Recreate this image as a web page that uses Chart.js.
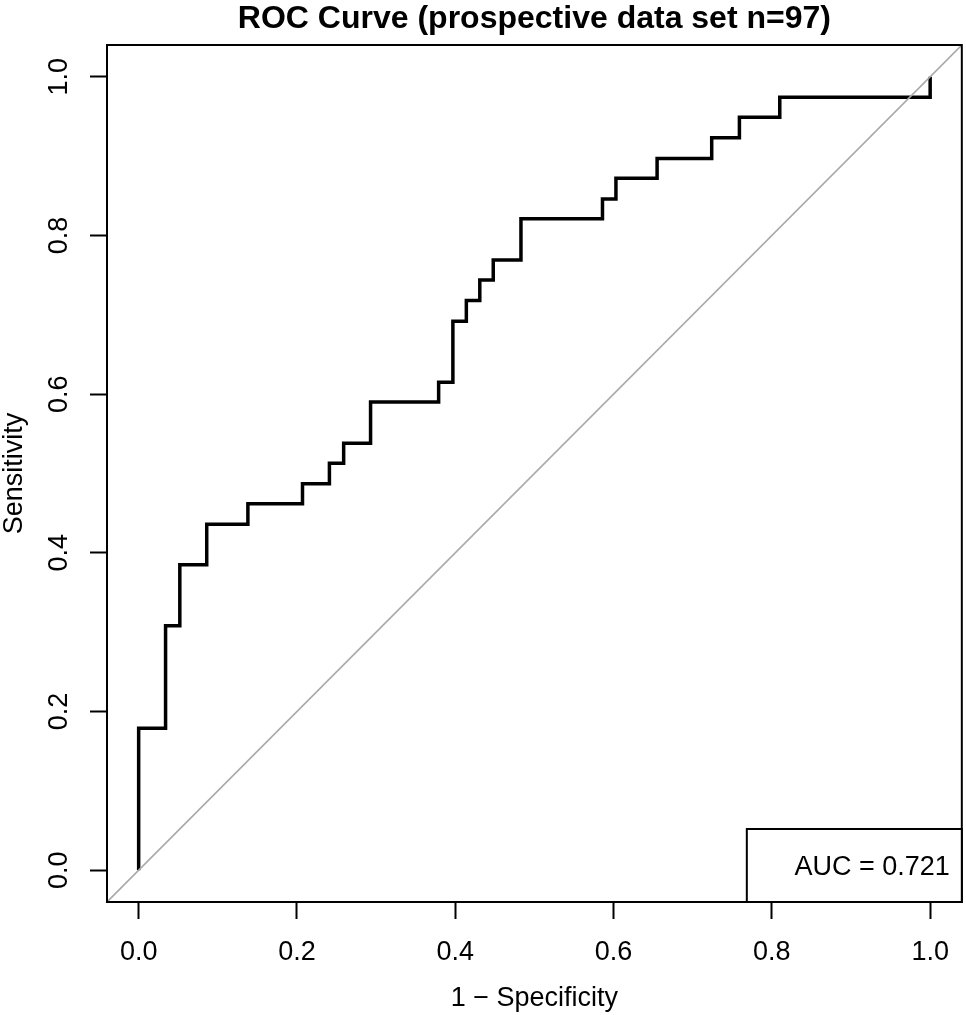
<!DOCTYPE html>
<html>
<head>
<meta charset="utf-8">
<script src="https://cdn.jsdelivr.net/npm/chart.js@4"></script>
<style>
  body { margin: 0; background: #fff; }
  #wrap { width: 966px; height: 1015px; }
</style>
</head>
<body>
<div id="wrap"><canvas id="roc" width="966" height="1015"></canvas></div>
<script>
// ROC curve, prospective data set

// step corners of the curve (1 - specificity, sensitivity)
const fpr = [0, 0, 0.034, 0.052, 0.086, 0.138, 0.207, 0.241, 0.259, 0.293, 0.379, 0.397,
  0.414, 0.431, 0.448, 0.483, 0.586, 0.603, 0.655, 0.724, 0.759, 0.810, 1.0];
const tpr = [0, 0.179, 0.308, 0.385, 0.436, 0.462, 0.487, 0.513, 0.538, 0.590, 0.615, 0.692,
  0.718, 0.744, 0.769, 0.821, 0.846, 0.872, 0.897, 0.923, 0.949, 0.974, 1.0];

// chance line, corner to corner of the plot region
const diagX = [-0.04, 1.04];
const diagY = [-0.04, 1.04];

const tickValues = [0, 0.2, 0.4, 0.6, 0.8, 1.0];
const tickLabels = ['0.0', '0.2', '0.4', '0.6', '0.8', '1.0'];

const title = 'ROC Curve (prospective data set n=97)';
const aucText = 'AUC = 0.721';

const FONT = '"Liberation Sans", Arial, Helvetica, sans-serif';

// draws box, title, rotated y labels and the auc legend
const extras = {
  id: 'extras',
  afterDraw(chart) {
    const ctx = chart.ctx;
    const a = chart.chartArea;
    const ys = chart.scales.y;
    ctx.save();
    ctx.strokeStyle = '#000';
    ctx.lineWidth = 2;
    ctx.strokeRect(a.left, a.top, a.right - a.left, a.bottom - a.top);

    ctx.fillStyle = '#000';
    ctx.font = 'bold 32px ' + FONT;
    ctx.textAlign = 'center';
    ctx.textBaseline = 'alphabetic';
    ctx.fillText(title, (a.left + a.right) / 2, 28);

    ctx.font = '27px ' + FONT;
    tickValues.forEach((v, i) => {
      ctx.save();
      ctx.translate(67, ys.getPixelForValue(v));
      ctx.rotate(-Math.PI / 2);
      ctx.fillText(tickLabels[i], 0, 0);
      ctx.restore();
    });

    // legend bottom right
    const w = 215, h = 73;
    ctx.fillStyle = '#fff';
    ctx.fillRect(a.right - w, a.bottom - h, w, h);
    ctx.strokeRect(a.right - w, a.bottom - h, w, h);
    ctx.fillStyle = '#000';
    ctx.textAlign = 'right';
    ctx.fillText(aucText, a.right - 12, a.bottom - h / 2 + 9.5);
    ctx.restore();
  }
};

const context = document.getElementById('roc').getContext('2d');
new Chart(context, {
  type: 'scatter',
  data: {
    datasets: [
      { data: diagX.map((x, i) => ({ x: x, y: diagY[i] })), showLine: true,
        borderColor: '#a9a9a9', borderWidth: 1.6, pointRadius: 0 },
      { data: fpr.map((x, i) => ({ x: x, y: tpr[i] })), showLine: true, stepped: 'before',
        borderColor: '#000', borderWidth: 3.5, pointRadius: 0 }
    ]
  },
  options: {
    responsive: false, animation: false, devicePixelRatio: 1,
    layout: { padding: { top: 45, right: 2, left: 0, bottom: 0 } },
    plugins: { legend: { display: false }, tooltip: { enabled: false } },
    scales: {
      x: {
        type: 'linear', min: -0.04, max: 1.04,
        afterBuildTicks: s => { s.ticks = tickValues.map(v => ({ value: v })); },
        afterFit: s => { s.height = 113; },
        ticks: { callback: (v) => tickLabels[tickValues.indexOf(v)], color: '#000',
          font: { family: FONT, size: 27 }, padding: 17, maxRotation: 0 },
        grid: { drawOnChartArea: false, drawTicks: true, tickLength: 17, tickColor: '#000', tickWidth: 2 },
        border: { display: true, color: '#000', width: 2 },
        title: { display: true, text: '1 − Specificity', color: '#000',
          font: { family: FONT, size: 27 }, padding: { top: 0, bottom: 0 } }
      },
      y: {
        type: 'linear', min: -0.04, max: 1.04,
        afterBuildTicks: s => { s.ticks = tickValues.map(v => ({ value: v })); },
        afterFit: s => { s.width = 107; },
        ticks: { display: false },
        grid: { drawOnChartArea: false, drawTicks: true, tickLength: 17, tickColor: '#000', tickWidth: 2 },
        border: { display: true, color: '#000', width: 2 },
        title: { display: true, text: 'Sensitivity', color: '#000',
          font: { family: FONT, size: 27 }, padding: { top: -2, bottom: 0 } }
      }
    }
  },
  plugins: [extras]
});
</script>
</body>
</html>
